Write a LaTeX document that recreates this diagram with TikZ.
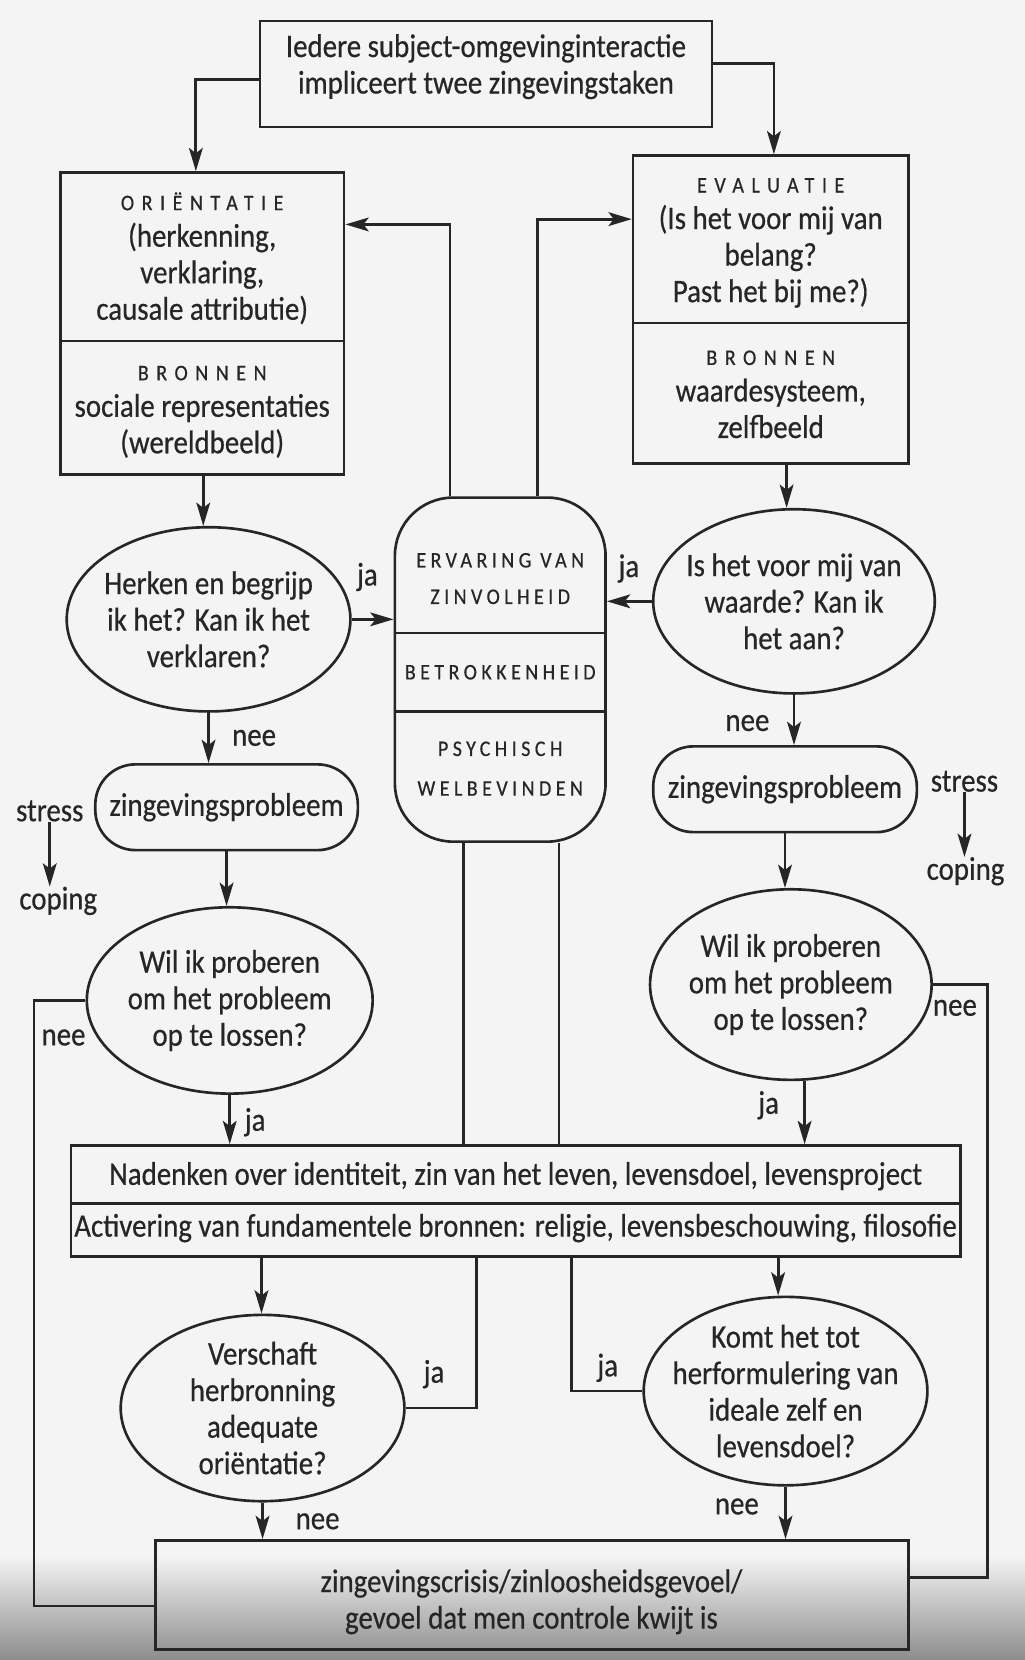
\documentclass[tikz,border=0pt]{standalone}
\usepackage{fontspec}
\setmainfont[FakeStretch=0.88,FakeBold=0.5]{Carlito}
\newfontfamily\capsf[FakeStretch=0.9,LetterSpace=20,FakeBold=0.5]{Carlito}
\newfontfamily\headf[FakeStretch=0.9,LetterSpace=34,FakeBold=0.5]{Carlito}
\usetikzlibrary{shapes.geometric,arrows.meta}
\definecolor{ink}{RGB}{38,38,38}
\definecolor{paper}{RGB}{244,244,244}
\newcommand\mainfs{\fontsize{31}{34.5}\selectfont}
\newcommand\capfs{\fontsize{21}{34.5}\capsf}
\newcommand\headfs{\fontsize{21}{34.5}\headf}
\begin{document}
\begin{tikzpicture}[x=1pt,y=-1pt,
  frame/.style={draw=ink,line width=2.5pt,inner sep=0pt},
  pill/.style={draw=ink,line width=2.5pt,inner sep=0pt,rounded corners=38pt,align=center,font=\mainfs,text=ink},
  ell/.style={ellipse,draw=ink,line width=2.5pt,inner sep=-30pt,align=center,font=\mainfs,text=ink},
  txt/.style={inner sep=0pt,align=center,font=\mainfs,text=ink},
  captxt/.style={inner sep=0pt,align=center,font=\capfs,text=ink},
  conn/.style={draw=ink,line width=2.6pt},
  arr/.style={draw=ink,line width=2.6pt,-{Stealth[length=22pt,width=13pt,inset=5pt]}}
]
\fill[paper] (0,0) rectangle (968,1568);
\useasboundingbox (0,0) rectangle (968,1568);
\shade[top color=paper,bottom color=black!45] (0,1470) rectangle (968,1568);

% boxes
\node[frame,minimum width=427pt,minimum height=100pt] (top) at (459,70) {};
\node[txt] (toptxt) at (459,63) {Iedere subject-omgevinginteractie\\impliceert twee zingevingstaken};

\node[frame,minimum width=268pt,minimum height=285pt] (ori) at (191,305.5) {};
\coordinate (oridiv) at (0,322);
\draw[conn] (ori.west |- oridiv) -- (ori.east |- oridiv);
\node[txt] (oritop) at (191,244) {{\headfs ORIËNTATIE}\\(herkenning,\\verklaring,\\causale attributie)};
\node[txt] (oribot) at (191,389) {{\headfs BRONNEN}\\sociale representaties\\(wereldbeeld)};

\node[frame,minimum width=260pt,minimum height=291pt] (eva) at (728,292.5) {};
\coordinate (evadiv) at (0,305);
\draw[conn] (eva.west |- evadiv) -- (eva.east |- evadiv);
\node[txt] (evatop) at (728,229.5) {{\headfs EVALUATIE}\\(Is het voor mij van\\belang?\\Past het bij me?)};
\node[txt] (evabot) at (728,372.5) {{\headfs BRONNEN}\\waardesysteem,\\zelfbeeld};

\node[frame,rounded corners=55pt,minimum width=199pt,minimum height=325pt] (ctr) at (472.5,632.5) {};
\coordinate (cdiv1) at (0,598);
\coordinate (cdiv2) at (0,672);
\draw[conn] (ctr.west |- cdiv1) -- (ctr.east |- cdiv1);
\draw[conn] (ctr.west |- cdiv2) -- (ctr.east |- cdiv2);
\node[captxt] (ctr1) at (472.5,546.5) {ERVARING VAN\\ZINVOLHEID};
\node[captxt] (ctr2) at (472.5,635) {BETROKKENHEID};
\node[captxt] (ctr3) at (472.5,726) {PSYCHISCH\\[3pt]WELBEVINDEN};

\node[ell,minimum width=268pt,minimum height=174pt] (e1) at (197,585) {Herken en begrijp\\ik het? Kan ik het\\verklaren?};
\node[ell,minimum width=266pt,minimum height=174pt] (e2) at (750,568) {Is het voor mij van\\waarde? Kan ik\\het aan?};
\node[pill,minimum width=248pt,minimum height=81pt] (zp1) at (214,762.5) {zingevingsprobleem};
\node[pill,minimum width=249pt,minimum height=81pt] (zp2) at (741.5,745.5) {zingevingsprobleem};
\node[ell,minimum width=270pt,minimum height=176pt] (e3) at (217,945) {Wil ik proberen\\om het probleem\\op te lossen?};
\node[ell,minimum width=266pt,minimum height=180pt] (e4) at (747,930) {Wil ik proberen\\om het probleem\\op te lossen?};

\node[frame,minimum width=840pt,minimum height=105pt] (nad) at (487,1134.5) {};
\coordinate (ndiv) at (0,1137);
\draw[conn] (nad.west |- ndiv) -- (nad.east |- ndiv);
\node[txt] (nad1) at (487,1111) {Nadenken over identiteit, zin van het leven, levensdoel, levensproject};
\node[txt] (nad2) at (487,1160) {Activering van fundamentele bronnen: religie, levensbeschouwing, filosofie};

\node[ell,minimum width=268pt,minimum height=176pt] (e5) at (248,1330) {Verschaft\\herbronning\\adequate\\oriëntatie?};
\node[ell,minimum width=268pt,minimum height=178pt] (e6) at (742,1314) {Komt het tot\\herformulering van\\ideale zelf en\\levensdoel?};

\node[frame,minimum width=711pt,minimum height=103pt] (fin) at (502.5,1506.5) {};
\node[txt] (fintxt) at (502,1513) {zingevingscrisis/zinloosheidsgevoel/\\gevoel dat men controle kwijt is};

% side notes
\node[txt] (sl) at (47,766) {stress};
\node[txt] (cpl) at (55,851) {coping};
\node[txt] (sr) at (911,738) {stress};
\node[txt] (cpr) at (912,823) {coping};
\draw[arr] (sl.south) -- (sl.south |- cpl.north);
\draw[arr] (sr.south) -- (sr.south |- cpr.north);

% connectors
\coordinate (tl) at (185,75);
\draw[arr] (top.west |- tl) -- (tl) -- (tl |- ori.north);
\coordinate (tr) at (731,60);
\draw[arr] (top.east |- tr) -- (tr) -- (tr |- eva.north);
\coordinate (cl) at (425,212);
\draw[arr] (cl |- ctr.north) -- (cl) -- (ori.east |- cl);
\coordinate (cr) at (508,207);
\draw[arr] (cr |- ctr.north) -- (cr) -- (eva.west |- cr);
\coordinate (ol) at (192,0);
\draw[arr] (ol |- ori.south) -- (ol |- e1.north);
\coordinate (el) at (743,0);
\draw[arr] (el |- eva.south) -- (el |- e2.north);
\draw[arr] (e1.east) -- (ctr.west |- e1.east);
\draw[arr] (e2.west) -- (ctr.east |- e2.west);
\draw[arr] (e1.south) -- (e1.south |- zp1.north);
\draw[arr] (e2.south) -- (e2.south |- zp2.north);
\draw[arr] (zp1.south) -- (zp1.south |- e3.north);
\draw[arr] (zp2.south) -- (zp2.south |- e4.north);
\draw[arr] (e3.south) -- (e3.south |- nad.north);
\coordinate (jr) at (760,0);
\draw[arr] (jr |- e4.south) -- (jr |- nad.north);
\coordinate (m1) at (438,0);
\coordinate (m2) at (528,0);
\draw[conn] (m1 |- ctr.south) -- (m1 |- nad.north);
\draw[conn] (m2 |- ctr.south) -- (m2 |- nad.north);
\coordinate (n1) at (247,0);
\draw[arr] (n1 |- nad.south) -- (n1 |- e5.north);
\coordinate (n2) at (735,0);
\draw[arr] (n2 |- nad.south) -- (n2 |- e6.north);
\coordinate (m3) at (450,0);
\draw[conn] (e5.east) -| (m3 |- nad.south);
\coordinate (m4) at (540,0);
\draw[conn] (e6.west) -| (m4 |- nad.south);
\draw[arr] (e5.south) -- (e5.south |- fin.north);
\draw[arr] (e6.south) -- (e6.south |- fin.north);
\coordinate (lb) at (32,1517);
\draw[conn] (e3.west) -| (lb) -- (fin.west |- lb);
\coordinate (rb) at (933,1490);
\draw[conn] (e4.east) -| (rb) -- (fin.east |- rb);

% labels
\node[txt] (l1) at (347,545) {ja};
\node[txt] (l2) at (594,537) {ja};
\node[txt] (l3) at (240,697) {nee};
\node[txt] (l4) at (706,683) {nee};
\node[txt] (l5) at (60,980) {nee};
\node[txt] (l6) at (902,952) {nee};
\node[txt] (l7) at (726,1044) {ja};
\node[txt] (l8) at (241,1060) {ja};
\node[txt] (l9) at (410,1298) {ja};
\node[txt] (l10) at (300,1437) {nee};
\node[txt] (l11) at (574,1292) {ja};
\node[txt] (l12) at (696,1423) {nee};
\end{tikzpicture}
\end{document}
